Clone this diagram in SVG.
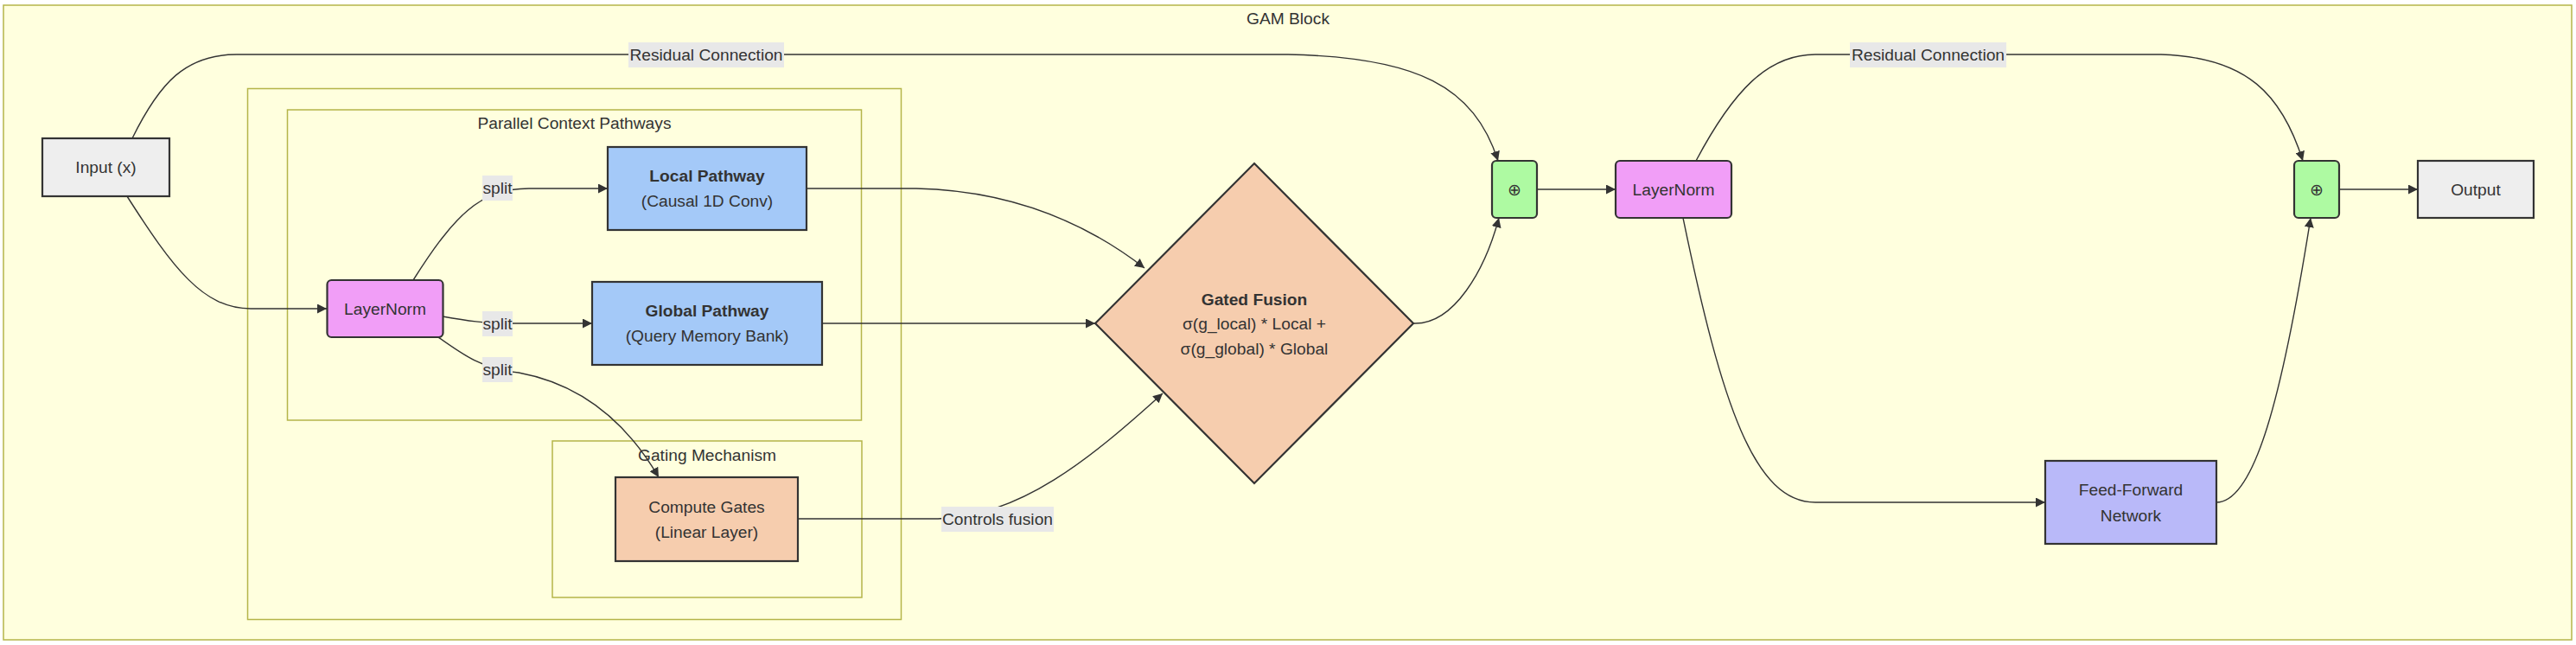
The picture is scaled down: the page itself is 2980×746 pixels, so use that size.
<svg xmlns="http://www.w3.org/2000/svg" width="2980" height="746" viewBox="0 0 2980 746">
<defs>
<marker id="arr" viewBox="0 0 10 10" refX="10" refY="5" markerUnits="userSpaceOnUse" markerWidth="11" markerHeight="11" orient="auto">
<path d="M0,0 L10,5 L0,10 z" fill="#333"/>
</marker>
</defs>
<style>
.cl{fill:#ffffde;stroke:#b5b54a;stroke-width:1.5}
.ct{font-family:"Liberation Sans",Arial,sans-serif;font-size:19.2px;fill:#333;text-anchor:middle;dominant-baseline:central}
.n{stroke:#333;stroke-width:2.2}
.t{font-family:"Liberation Sans",Arial,sans-serif;font-size:19.2px;fill:#333;text-anchor:middle;dominant-baseline:central}
.b{font-weight:bold}
.e{fill:none;stroke:#333;stroke-width:1.4}
.lb{fill:#e8e8e8}
.gray{fill:#eeeeee}
.pink{fill:#f19ef7}
.blue{fill:#a4c9f8}
.peach{fill:#f6cdae}
.green{fill:#aefaa2}
.purple{fill:#b9b9f9}
</style>
<rect x="0" y="0" width="2980" height="746" fill="#ffffff"/>
<g id="clusters">
<g id="gam-block">
<rect class="cl" x="4" y="6" width="2971" height="734"/>
<text class="ct" x="1490" y="21">GAM Block</text>
</g>
<g id="outer-group">
<rect class="cl" x="286.5" y="102.5" width="756" height="614"/>
</g>
<g id="parallel-context">
<rect class="cl" x="332.5" y="127" width="664" height="359"/>
<text class="ct" x="664.5" y="142">Parallel Context Pathways</text>
</g>
<g id="gating-mechanism">
<rect class="cl" x="639" y="510" width="358" height="181"/>
<text class="ct" x="818" y="526">Gating Mechanism</text>
</g>
</g>
<g id="connectors">
<path class="e" d="M153,160 C185,95 215,63 274,63 L1490,63 C1640,66 1705,100 1733,186" marker-end="url(#arr)"/>
<path class="e" d="M147,227 C200,310 235,357 290,357 L378,357" marker-end="url(#arr)"/>
<path class="e" d="M478,324 C525,250 555,218 612,218 L703,218" marker-end="url(#arr)"/>
<path class="e" d="M512,366 C540,371 560,374 592,374 L685,374" marker-end="url(#arr)"/>
<path class="e" d="M507,390 C535,410 560,428 600,431 C665,443 720,480 762,552" marker-end="url(#arr)"/>
<path class="e" d="M933,218 L1060,218 C1150,220 1240,245 1324,310" marker-end="url(#arr)"/>
<path class="e" d="M951,374 L1267,374" marker-end="url(#arr)"/>
<path class="e" d="M923,600 L1085,600 C1180,598 1262,530 1345,455" marker-end="url(#arr)"/>
<path class="e" d="M1635,374 C1682,376 1718,312 1734,252" marker-end="url(#arr)"/>
<path class="e" d="M1778,219 L1869,219" marker-end="url(#arr)"/>
<path class="e" d="M1962,186 C2005,105 2045,63 2100,63 L2500,63 C2600,66 2640,110 2664,186" marker-end="url(#arr)"/>
<path class="e" d="M1947,252 C1992,470 2030,581 2100,581 L2366,581" marker-end="url(#arr)"/>
<path class="e" d="M2564,581 C2608,581 2640,460 2673,252" marker-end="url(#arr)"/>
<path class="e" d="M2706,219 L2797,219" marker-end="url(#arr)"/>
</g>
<g id="edge-labels">
<g id="label-residual-1"><rect class="lb" x="727" y="49" width="180" height="29"/><text class="t" x="817" y="63.5">Residual Connection</text></g>
<g id="label-split-1"><rect class="lb" x="558" y="203" width="35" height="29"/><text class="t" x="575.5" y="217.5">split</text></g>
<g id="label-split-2"><rect class="lb" x="558" y="360" width="35" height="29"/><text class="t" x="575.5" y="374.5">split</text></g>
<g id="label-split-3"><rect class="lb" x="558" y="413" width="35" height="29"/><text class="t" x="575.5" y="427.5">split</text></g>
<g id="label-controls"><rect class="lb" x="1089" y="586" width="130" height="29"/><text class="t" x="1154" y="600.5">Controls fusion</text></g>
<g id="label-residual-2"><rect class="lb" x="2140" y="49" width="181" height="29"/><text class="t" x="2230.5" y="63.5">Residual Connection</text></g>
</g>
<g id="input">
<rect class="n gray" x="49" y="160" width="147" height="67"/>
<text class="t" x="122.5" y="193.5">Input (x)</text>
</g>
<g id="layernorm-1">
<rect class="n pink" x="378.5" y="324" width="134" height="66" rx="5"/>
<text class="t" x="445.5" y="357">LayerNorm</text>
</g>
<g id="local-pathway">
<rect class="n blue" x="703" y="170" width="230" height="96"/>
<text class="t b" x="818" y="203.5">Local Pathway</text>
<text class="t" x="818" y="232.5">(Causal 1D Conv)</text>
</g>
<g id="global-pathway">
<rect class="n blue" x="685" y="326" width="266" height="96"/>
<text class="t b" x="818" y="359.5">Global Pathway</text>
<text class="t" x="818" y="388.5">(Query Memory Bank)</text>
</g>
<g id="compute-gates">
<rect class="n peach" x="712" y="552" width="211" height="97"/>
<text class="t" x="817.5" y="586">Compute Gates</text>
<text class="t" x="817.5" y="615">(Linear Layer)</text>
</g>
<g id="gated-fusion">
<polygon class="n peach" points="1451,189 1635,374 1451,559 1267,374"/>
<text class="t b" x="1451" y="346">Gated Fusion</text>
<text class="t" x="1451" y="374.5">σ(g_local) * Local +</text>
<text class="t" x="1451" y="403">σ(g_global) * Global</text>
</g>
<g id="add-1">
<rect class="n green" x="1726" y="186" width="52" height="66" rx="5"/>
<text class="t" x="1752" y="219">⊕</text>
</g>
<g id="layernorm-2">
<rect class="n pink" x="1869" y="186" width="134" height="66" rx="5"/>
<text class="t" x="1936" y="219">LayerNorm</text>
</g>
<g id="ffn">
<rect class="n purple" x="2366" y="533" width="198" height="96"/>
<text class="t" x="2465" y="566">Feed-Forward</text>
<text class="t" x="2465" y="596">Network</text>
</g>
<g id="add-2">
<rect class="n green" x="2654" y="186" width="52" height="66" rx="5"/>
<text class="t" x="2680" y="219">⊕</text>
</g>
<g id="output">
<rect class="n gray" x="2797" y="186" width="134" height="66"/>
<text class="t" x="2864" y="219">Output</text>
</g>
</svg>
